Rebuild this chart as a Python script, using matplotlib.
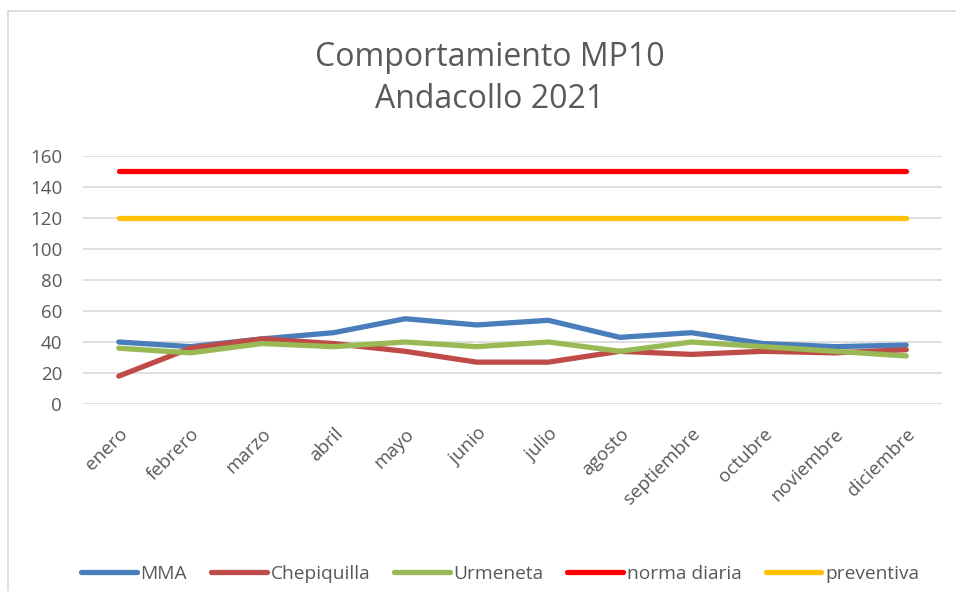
import matplotlib
matplotlib.use("Agg")
import matplotlib.pyplot as plt
from matplotlib.patches import Rectangle

months = ["enero", "febrero", "marzo", "abril", "mayo", "junio", "julio",
          "agosto", "septiembre", "octubre", "noviembre", "diciembre"]
mma = [40, 37, 42, 46, 55, 51, 54, 43, 46, 39, 37, 38]
chepiquilla = [18, 36, 42, 39, 34, 27, 27, 34, 32, 34, 33, 35]
urmeneta = [36, 33, 39, 37, 40, 37, 40, 34, 40, 37, 34, 31]
norma_diaria = [150] * 12
preventiva = [120] * 12
yticks = [0, 20, 40, 60, 80, 100, 120, 140, 160]

plt.rcParams['font.family'] = ['Open Sans', 'DejaVu Sans']

fig = plt.figure(figsize=(9.56, 5.91), dpi=100)
ax = fig.add_axes([83/956, 1-404/591, (942-83)/956, (404-156)/591])

x = list(range(len(months)))
lw = 3.8
ax.plot(x, mma, color="#4a7ebb", lw=lw, label="MMA", solid_capstyle="round")
ax.plot(x, chepiquilla, color="#be4b48", lw=lw, label="Chepiquilla", solid_capstyle="round")
ax.plot(x, urmeneta, color="#98b954", lw=lw, label="Urmeneta", solid_capstyle="round")
ax.plot(x, norma_diaria, color="#ff0000", lw=lw, label="norma diaria", solid_capstyle="round")
ax.plot(x, preventiva, color="#ffc000", lw=lw, label="preventiva", solid_capstyle="round")

ax.set_ylim(0, 160)
ax.set_yticks(yticks)
ax.set_xlim(-0.5, 11.5)
ax.set_xticks(x)
ax.set_xticklabels(months, rotation=45, ha="right", rotation_mode="anchor")
ax.grid(axis="y", color="#d9d9d9", lw=1.2)
ax.set_axisbelow(True)
for s in ax.spines.values():
    s.set_visible(False)
ax.tick_params(axis="both", length=0, labelsize=13.5, colors="#595959")
ax.tick_params(axis="x", pad=15)
ax.tick_params(axis="y", pad=15)

fig.text(490/956, 1-58/591, "Comportamiento MP10", ha="center", va="center",
         fontsize=23, color="#595959")
fig.text(490/956, 1-100/591, "Andacollo 2021", ha="center", va="center",
         fontsize=23, color="#595959")

leg = fig.legend(loc="center", bbox_to_anchor=(500/956, 1-574/591), ncol=5,
                 frameon=False, fontsize=13.8, handlelength=2.9,
                 handletextpad=0.2, columnspacing=1.25)
for t in leg.get_texts():
    t.set_color("#595959")

fig.patches.append(Rectangle((8/956, -0.01), 1.0, 1 - 11/591 + 0.01,
                             transform=fig.transFigure,
                             fill=False, edgecolor="#d9d9d9", lw=1.2))

fig.savefig("out.png", dpi=100)
